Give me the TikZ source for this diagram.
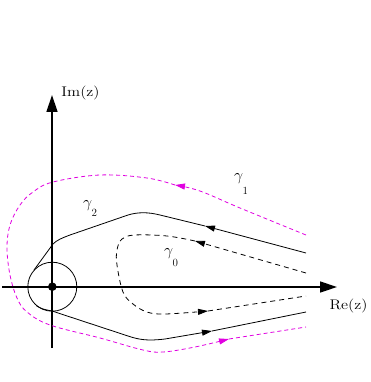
\RequirePackage{fix-cm}
\documentclass[tikz,border=0pt]{standalone}
\usepackage{graphicx}
\usetikzlibrary{arrows.meta}
\definecolor{mag}{RGB}{224,0,224}
\newcommand\glab[2]{\fontsize{16}{16}\selectfont$\gamma$\kern-0.5pt\raisebox{-#2pt}{\fontsize{11}{11}\selectfont #1}}
\newcommand\axlab[1]{\scalebox{1.15}[1]{\fontsize{14}{15}\selectfont #1}}
\tikzset{
  axis/.style={line width=1.4pt,-{Triangle[length=17pt,width=11pt]}},
  solidc/.style={line width=0.8pt},
  dashc/.style={line width=0.8pt,dash pattern=on 5pt off 4pt},
  magc/.style={mag,line width=0.8pt,dash pattern=on 4pt off 3pt},
  tipb/.style={-{Triangle[length=10pt,width=6pt]}},
  lab/.style={inner sep=0pt},
}
\begin{document}
\begin{tikzpicture}[x=1pt,y=-1pt]
\useasboundingbox (0,0) rectangle (370,382);
% axes
\coordinate (xs) at (2,287);
\coordinate (xe) at (337,287);
\coordinate (ys) at (52,348);
\coordinate (ye) at (52,95);
\coordinate (O) at (52.3,286.7);
\draw[axis] (xs) -- (xe);
\draw[axis] (ys) -- (ye);
\node[circle,draw,line width=0.8pt,minimum size=49pt,inner sep=0pt] (circ) at (O) {};
\node[circle,fill,minimum size=8.6pt,inner sep=0pt] (dot) at (O) {};
% labels
\node[lab] (imlab) at (80.5,93) {\axlab{Im(z)}};
\node[lab] (relab) at (348.5,306) {\axlab{Re(z)}};
\node[lab,anchor=base west] (g1) at (234,180.5) {\glab{1}{14}};
\node[lab,anchor=base west] (g2) at (83,207.5) {\glab{2}{8.5}};
\node[lab,anchor=base west] (g0) at (164,255.5) {\glab{0}{11}};
% gamma 2 (solid)
\coordinate (a1) at (306,253);
\coordinate (a2) at (205,226);
\coordinate (a3) at (34,270);
\coordinate (a4) at (36,305.5);
\coordinate (a5) at (212,331);
\coordinate (a6) at (306,312);
\draw[solidc,tipb] (a1) -- (a2);
\draw[solidc] (a2) -- (160,215) .. controls (148,212) and (138,212) .. (128,215)
  -- (70,235) .. controls (62,238) and (57,240) .. (53,244) -- (a3);
\draw[solidc,tipb] (a4) .. controls (42,309) .. (52,311) -- (128,336)
  .. controls (140,340) and (148,341) .. (165,339) -- (a5);
\draw[solidc] (a5) -- (a6);
% gamma 0 (dashed)
\coordinate (b1) at (306,273);
\coordinate (b2) at (195,241);
\coordinate (b3) at (208,311);
\coordinate (b4) at (306,296);
\draw[dashc,tipb] (b1) -- (b2);
\draw[dashc,tipb] plot[smooth,tension=0.6] coordinates {(195,241) (167,236) (135,235) (122,239) (117,250) (117,265) (123,292) (133,304) (147,312) (165,314) (208,311)};
\draw[dashc] (b3) -- (b4);
% gamma 1 (magenta dashed)
\coordinate (c1) at (306,235);
\coordinate (c2) at (175,185);
\coordinate (c3) at (229,339);
\coordinate (c4) at (306,327);
\draw[magc,tipb,mag] plot[smooth,tension=0.6] coordinates {(306,235) (240,208) (200,191) (175,185)};
\draw[magc,tipb,mag] plot[smooth,tension=0.6] coordinates {(175,185) (147,178) (100,175) (53,182) (33,192) (20,205) (10,225) (7,248) (10,275) (17,298) (27,312) (50,325) (100,338) (143,350) (163,352) (195,347) (229,339)};
\draw[magc] (c3) -- (c4);
\end{tikzpicture}
\end{document}
